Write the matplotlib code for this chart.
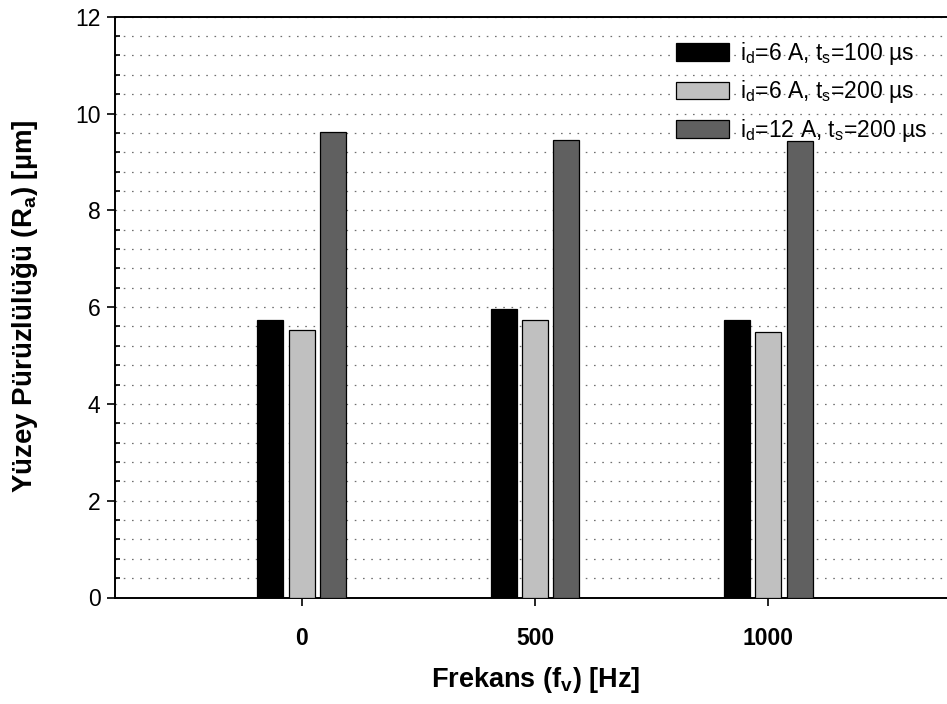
import matplotlib
matplotlib.use("Agg")
import matplotlib.pyplot as plt
from matplotlib.ticker import MultipleLocator
import numpy as np

plt.rcParams['font.family'] = ['Liberation Sans', 'DejaVu Sans']
plt.rcParams['mathtext.fontset'] = 'custom'
plt.rcParams['mathtext.rm'] = 'Liberation Sans'
plt.rcParams['mathtext.it'] = 'Liberation Sans'
plt.rcParams['mathtext.bf'] = 'Liberation Sans:bold'

# Data
freq_labels = ['0', '500', '1000']
ra_6A_100us = [5.73, 5.97, 5.74]
ra_6A_200us = [5.52, 5.74, 5.49]
ra_12A_200us = [9.62, 9.46, 9.43]
series_labels = [r'i$_\mathregular{d}$=6 A, t$_\mathregular{s}$=100 µs',
                 r'i$_\mathregular{d}$=6 A, t$_\mathregular{s}$=200 µs',
                 r'i$_\mathregular{d}$=12 A, t$_\mathregular{s}$=200 µs']
colors = ['#000000', '#c0c0c0', '#606060']

W, H = 947, 704
fig = plt.figure(figsize=(W / 100, H / 100), dpi=100)
ax = fig.add_axes([115 / W, 1 - 597.5 / H, (955 - 115) / W, (597.5 - 16.7) / H])

x = np.arange(len(freq_labels))
offsets = [-0.134, 0.0, 0.134]
width = 0.112
for vals, off, col, lab in zip([ra_6A_100us, ra_6A_200us, ra_12A_200us], offsets, colors, series_labels):
    ax.bar(x + off, vals, width=width, color=col, edgecolor='black', linewidth=0.9, label=lab, zorder=3)

ax.set_xlim(-0.8, 2.8)
ax.set_ylim(0, 12)
ax.set_xticks(x)
ax.set_xticklabels(freq_labels, fontsize=16.5, fontweight='bold')
ax.yaxis.set_major_locator(MultipleLocator(2))
ax.yaxis.set_minor_locator(MultipleLocator(0.4))
ax.tick_params(axis='y', which='major', direction='out', length=6, width=1.2, labelsize=16.5, pad=4.5)
ax.tick_params(axis='y', which='minor', direction='in', length=3.8, width=1.2)
ax.tick_params(axis='x', which='major', direction='out', length=6, width=1.2, pad=15.5)
ax.tick_params(top=False, right=False)

ax.grid(axis='y', which='both', color='#707070', linestyle=(0, (1.3, 5.3)), linewidth=0.9, zorder=1)
ax.set_axisbelow(True)
for s in ['left', 'bottom', 'top', 'right']:
    ax.spines[s].set_linewidth(1.4)

fig.text(535.5 / W, 1 - 687 / H, r'Frekans (f$_\mathregular{v}$) [Hz]', ha='center', va='baseline',
         fontsize=19.5, fontweight='bold')
fig.text(25 / W, 1 - 306 / H, r'Yüzey Pürüzlülüğü (R$_\mathregular{a}$) [µm]', ha='center', va='center',
         rotation=90, fontsize=20, fontweight='bold')

leg = ax.legend(loc='upper left', bbox_to_anchor=(676 / W, 1 - 40 / H), bbox_transform=fig.transFigure,
                frameon=False, fontsize=16.5, borderpad=0, borderaxespad=0, handlelength=2.3,
                handleheight=0.8, handletextpad=0.5, labelspacing=0.5)

fig.savefig('out.png', dpi=100)
